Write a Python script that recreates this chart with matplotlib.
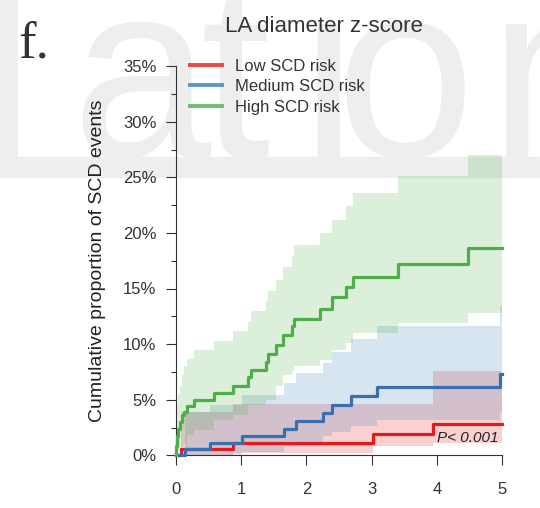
import matplotlib
matplotlib.use('Agg')
import matplotlib.pyplot as plt
import matplotlib.patches as patches
from matplotlib.lines import Line2D
from matplotlib.ticker import MultipleLocator, FuncFormatter

plt.rcParams['font.family'] = ['Liberation Sans', 'DejaVu Sans']

# Kaplan-Meier style cumulative incidence (%) with CI bands
low_t = [0, 0.08, 0.87, 3.02, 3.94, 5.0]
low_est = [0, 0.55, 1.1, 1.9, 2.8, 2.8]
low_lo = [0, 0, 0.2, 0.8, 1.1, 1.1]
low_hi = [0, 3.9, 4.6, 4.6, 7.6, 7.6]

med_t = [0, 0.14, 0.52, 1.01, 1.66, 1.84, 2.25, 2.40, 2.69, 3.08, 4.96, 5.0]
med_est = [0, 0.55, 1.1, 1.7, 2.4, 3.1, 3.8, 4.5, 5.3, 6.1, 7.3, 7.3]
med_lo = [0, 0, 0, 0.3, 0.8, 1.2, 1.7, 2.1, 2.6, 3.2, 3.9, 3.9]
med_hi = [0, 3.9, 4.5, 5.4, 6.5, 7.4, 8.3, 9.3, 10.5, 11.6, 13.4, 13.4]

high_t = [0, 0.005, 0.02, 0.04, 0.07, 0.09, 0.12, 0.17, 0.28, 0.58, 0.87, 1.11, 1.15,
          1.38, 1.42, 1.54, 1.65, 1.78, 1.81, 2.21, 2.40, 2.61, 2.72, 3.41, 4.47, 5.0]
high_est = [0, 0.8, 1.7, 2.4, 3.0, 3.6, 3.9, 4.4, 5.0, 5.6, 6.2, 7.0, 7.7,
            8.4, 9.1, 9.9, 10.8, 11.6, 12.3, 13.2, 14.2, 15.1, 16.0, 17.2, 18.6, 18.6]
high_lo = [0, 0, 0.2, 0.4, 0.6, 0.8, 1.0, 1.8, 2.3, 3.2, 3.6, 4.5, 4.5,
           5.0, 5.0, 6.2, 7.2, 7.6, 8.0, 8.6, 9.5, 10.1, 11.0, 11.9, 12.8, 12.8]
high_hi = [0, 2.5, 4.5, 5.5, 6.2, 7.2, 8.0, 8.7, 9.5, 10.3, 11.2, 12.0, 13.0,
           13.9, 14.8, 15.8, 16.9, 17.9, 18.9, 20.0, 21.2, 22.4, 23.6, 25.1, 27.0, 27.0]

labels = ['Low SCD risk', 'Medium SCD risk', 'High SCD risk']
fill_colors = ['#E41A1C', '#377EB8', '#4DAF4A']
line_colors = ['#E41A1C', '#3A6FAF', '#4DAF4A']

fig = plt.figure(figsize=(5.4, 5.08), dpi=100)

# faint watermark letters + band in the background
wm_color = '#eeeeee'
wm_letters = ['l', 'a', 't', 'i', 'o', 'n']
wm_x = [-22, 71, 200, 300, 336, 488]
for ch, xp in zip(wm_letters, wm_x):
    fig.text(xp / 540, 1 - 157 / 508, ch, fontsize=180, color=wm_color,
             ha='left', va='baseline', zorder=-2)
fig.patches.append(patches.Rectangle((0, 1 - 177 / 508), 1, 20 / 508,
                                     transform=fig.transFigure, color=wm_color,
                                     zorder=-2))

ax = fig.add_axes([175.7 / 540, 1 - 455.3 / 508, 326.6 / 540, 389.2 / 508])
ax.set_facecolor('none')

groups = [(low_t, low_est, low_lo, low_hi),
          (med_t, med_est, med_lo, med_hi),
          (high_t, high_est, high_lo, high_hi)]

for (t, e, lo, hi), fc in zip(groups, fill_colors):
    ax.fill_between(t, lo, hi, step='post', color=fc, alpha=0.2, linewidth=0)

for (t, e, lo, hi), lc in zip(groups, line_colors):
    ax.step(t, e, where='post', color=lc, lw=2.3, clip_on=False, zorder=3)

ax.set_xlim(0, 5)
ax.set_ylim(0, 35)
for s in ['top', 'right']:
    ax.spines[s].set_visible(False)
for s in ['left', 'bottom']:
    ax.spines[s].set_color('#333333')
    ax.spines[s].set_linewidth(0.8)

ax.xaxis.set_major_locator(MultipleLocator(1))
ax.yaxis.set_major_locator(MultipleLocator(5))
ax.yaxis.set_minor_locator(MultipleLocator(2.5))
ax.yaxis.set_major_formatter(FuncFormatter(lambda v, p: '%d%%' % v))
ax.tick_params(axis='both', which='major', length=7, width=0.8, color='#333333',
               labelsize=12, labelcolor='#333333')
ax.tick_params(axis='y', which='major', pad=7)
ax.tick_params(axis='x', which='major', pad=12)
ax.tick_params(axis='y', which='minor', length=3.6, width=0.8, color='#333333')

ax.set_ylabel('Cumulative proportion of SCD events', fontsize=14, color='#222222',
              labelpad=12)

ax.text(4.0, 1.55, 'P< 0.001', fontsize=11, style='italic', color='#222222',
        ha='left', va='center', zorder=4)

handles = [Line2D([0], [0], color=c, lw=2.8, alpha=0.8) for c in fill_colors]
fig.legend(handles, labels, loc='upper left', bbox_to_anchor=(190 / 540, 1 - 59 / 508),
           frameon=False, fontsize=12, handlelength=1.9, handletextpad=0.8,
           labelspacing=0.32, labelcolor='#333333', borderaxespad=0, borderpad=0)

fig.text(324 / 540, 1 - 27 / 508, 'LA diameter z-score', fontsize=16, color='#333333',
         ha='center', va='center')
fig.text(18 / 540, 1 - 58 / 508, 'f.', fontsize=38, family='Liberation Serif',
         color='#333333', ha='left', va='baseline')

fig.savefig('out.png', dpi=100)
